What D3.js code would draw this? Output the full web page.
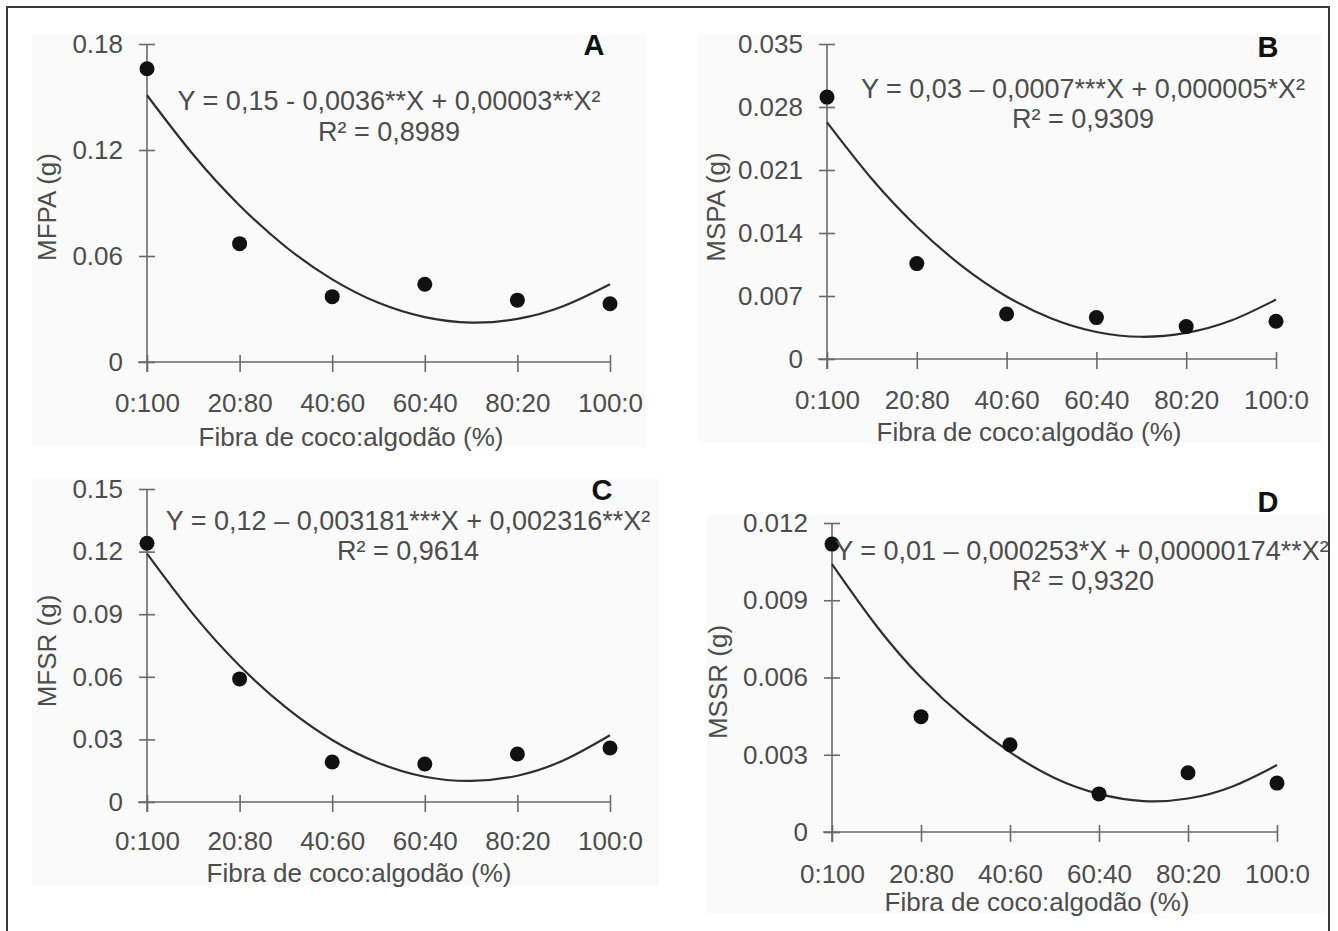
<!DOCTYPE html>
<html>
<head>
<meta charset="utf-8">
<script src="https://cdn.jsdelivr.net/npm/d3@7"></script>
<style>
  body { margin: 0; background: #fff; }
  text { font-family: "Liberation Sans", Arial, sans-serif; }
</style>
</head>
<body>
<script>
var w = 1338;
var h = 931;

// categories (coco fibre : cotton) and their numeric position
var xCats = ["0:100", "20:80", "40:60", "60:40", "80:20", "100:0"];
var xPct = [0, 20, 40, 60, 80, 100];
var curveX = [0, 10, 20, 30, 40, 50, 60, 70, 80, 90, 100];

// A - MFPA
var mfpaObs = [0.166, 0.067, 0.037, 0.044, 0.035, 0.033];
var mfpaFit = [0.151, 0.1173, 0.0886, 0.0651, 0.0468, 0.0335, 0.0254, 0.0223, 0.0244, 0.0317, 0.044];
var mfpaTicks = [0, 0.06, 0.12, 0.18];
var mfpaTickLabels = ["0", "0.06", "0.12", "0.18"];

// B - MSPA
var mspaObs = [0.0291, 0.0106, 0.0050, 0.0046, 0.0036, 0.0042];
var mspaFit = [0.0263, 0.0200, 0.0147, 0.01035, 0.00695, 0.0045, 0.0030, 0.00247, 0.0029, 0.00427, 0.0066];
var mspaTicks = [0, 0.007, 0.014, 0.021, 0.028, 0.035];
var mspaTickLabels = ["0", "0.007", "0.014", "0.021", "0.028", "0.035"];

// C - MFSR
var mfsrObs = [0.124, 0.059, 0.0192, 0.0182, 0.023, 0.0259];
var mfsrFit = [0.119, 0.0899, 0.0653, 0.0453, 0.0297, 0.0187, 0.0121, 0.0101, 0.0126, 0.0200, 0.032];
var mfsrTicks = [0, 0.03, 0.06, 0.09, 0.12, 0.15];
var mfsrTickLabels = ["0", "0.03", "0.06", "0.09", "0.12", "0.15"];

// D - MSSR
var mssrObs = [0.01118, 0.00448, 0.00339, 0.00148, 0.0023, 0.0019];
var mssrFit = [0.0104, 0.0080, 0.0060, 0.0044, 0.0031, 0.0021, 0.00148, 0.00120, 0.00130, 0.00177, 0.0026];
var mssrTicks = [0, 0.003, 0.006, 0.009, 0.012];
var mssrTickLabels = ["0", "0.003", "0.006", "0.009", "0.012"];

var xTitle = "Fibra de coco:algodão (%)";

// layout of the four panels (pixels only)
var panels = [
    { letter: "A", ylabel: "MFPA (g)", obs: mfpaObs, fit: mfpaFit, ticks: mfpaTicks, tickLabels: mfpaTickLabels,
      eq: "Y = 0,15 - 0,0036**X + 0,00003**X²", r2: "R² = 0,8989",
      bg: [32, 35, 646, 447], x0: 147, x1: 610, y0: 362, y1: 44,
      letterPos: [594, 55], eqPos: [389, 110], r2Pos: [389, 141], titlePos: [351, 446], ylabPos: [47, 207], tickDy: 50 },
    { letter: "B", ylabel: "MSPA (g)", obs: mspaObs, fit: mspaFit, ticks: mspaTicks, tickLabels: mspaTickLabels,
      eq: "Y = 0,03 – 0,0007***X + 0,000005*X²", r2: "R² = 0,9309",
      bg: [698, 35, 1322, 443], x0: 827, x1: 1276, y0: 359, y1: 44,
      letterPos: [1268, 57], eqPos: [1083, 98], r2Pos: [1083, 128], titlePos: [1029, 441], ylabPos: [716, 207], tickDy: 50 },
    { letter: "C", ylabel: "MFSR (g)", obs: mfsrObs, fit: mfsrFit, ticks: mfsrTicks, tickLabels: mfsrTickLabels,
      eq: "Y = 0,12 – 0,003181***X + 0,002316**X²", r2: "R² = 0,9614",
      bg: [32, 478, 659, 885], x0: 147, x1: 610, y0: 802, y1: 489,
      letterPos: [602, 500], eqPos: [408, 530], r2Pos: [408, 560], titlePos: [359, 882], ylabPos: [47, 651], tickDy: 48 },
    { letter: "D", ylabel: "MSSR (g)", obs: mssrObs, fit: mssrFit, ticks: mssrTicks, tickLabels: mssrTickLabels,
      eq: "Y = 0,01 – 0,000253*X + 0,00000174**X²", r2: "R² = 0,9320",
      bg: [707, 515, 1326, 913], x0: 832, x1: 1277, y0: 832, y1: 523,
      letterPos: [1268, 512], eqPos: [1082, 560], r2Pos: [1083, 590], titlePos: [1037, 911], ylabPos: [718, 682], tickDy: 51 }
];

var svg = d3.select("body")
    .append("svg")
    .attr("width", w)
    .attr("height", h);

svg.append("rect")
    .attr("width", w).attr("height", h)
    .attr("fill", "#fff");

// outer frame
svg.append("rect")
    .attr("x", 7).attr("y", 7)
    .attr("width", 1322).attr("height", 940)
    .attr("fill", "none")
    .attr("stroke", "#3a3a3a")
    .attr("stroke-width", 2);

var axisColor = "#6a6a6a";
var textColor = "#4d4d4d";

panels.forEach(function(p){
    var g = svg.append("g");

    g.append("rect")
        .attr("x", p.bg[0]).attr("y", p.bg[1])
        .attr("width", p.bg[2] - p.bg[0]).attr("height", p.bg[3] - p.bg[1])
        .attr("fill", "#fafafa");

    var x = d3.scaleLinear().domain([0, 100]).range([p.x0, p.x1]);
    var y = d3.scaleLinear().domain([0, d3.max(p.ticks)]).range([p.y0, p.y1]);

    // y axis: line + ticks crossing the axis
    var yAxis = d3.axisLeft(y)
        .tickValues(p.ticks)
        .tickSizeInner(16)
        .tickSizeOuter(0)
        .tickFormat(function(d, i){ return p.tickLabels[i]; });
    var yg = g.append("g")
        .attr("transform", "translate(" + (p.x0 + 8) + ",0)")
        .call(yAxis);
    yg.select(".domain").remove();
    yg.selectAll(".tick line").attr("stroke", axisColor).attr("stroke-width", 1.6);
    yg.selectAll(".tick text")
        .attr("x", -32)
        .attr("fill", textColor)
        .style("font-size", "26px")
        .attr("text-anchor", "end");
    g.append("line")
        .attr("x1", p.x0).attr("x2", p.x0)
        .attr("y1", y(0) + 10).attr("y2", y(d3.max(p.ticks)))
        .attr("stroke", axisColor).attr("stroke-width", 1.6);

    // x axis
    var xAxis = d3.axisBottom(x)
        .tickValues(xPct)
        .tickSizeInner(17)
        .tickSizeOuter(0)
        .tickFormat(function(d, i){ return xCats[i]; });
    var xg = g.append("g")
        .attr("transform", "translate(0," + (p.y0 - 7) + ")")
        .call(xAxis);
    xg.select(".domain").remove();
    xg.selectAll(".tick line").attr("stroke", axisColor).attr("stroke-width", 1.6);
    xg.selectAll(".tick text")
        .attr("y", p.tickDy + 7)
        .attr("dy", 0)
        .attr("fill", textColor)
        .style("font-size", "26px");
    g.append("line")
        .attr("x1", p.x0 - 9).attr("x2", p.x1)
        .attr("y1", p.y0).attr("y2", p.y0)
        .attr("stroke", axisColor).attr("stroke-width", 1.6);

    // fitted curve
    var line = d3.line()
        .x(function(d, i){ return x(curveX[i]); })
        .y(function(d){ return y(d); })
        .curve(d3.curveNatural);
    g.append("path")
        .datum(p.fit)
        .attr("d", line)
        .attr("fill", "none")
        .attr("stroke", "#2e2e2e")
        .attr("stroke-width", 2.2);

    // observed points
    g.selectAll("circle")
        .data(p.obs)
        .enter()
        .append("circle")
        .attr("cx", function(d, i){ return x(xPct[i]); })
        .attr("cy", function(d){ return y(d); })
        .attr("r", 7.5)
        .attr("fill", "#111");

    // texts
    g.append("text")
        .attr("x", p.eqPos[0]).attr("y", p.eqPos[1])
        .attr("text-anchor", "middle")
        .attr("fill", textColor)
        .style("font-size", "27px")
        .text(p.eq);
    g.append("text")
        .attr("x", p.r2Pos[0]).attr("y", p.r2Pos[1])
        .attr("text-anchor", "middle")
        .attr("fill", textColor)
        .style("font-size", "27px")
        .text(p.r2);
    g.append("text")
        .attr("x", p.letterPos[0]).attr("y", p.letterPos[1])
        .attr("text-anchor", "middle")
        .attr("fill", "#111")
        .style("font-size", "29px")
        .style("font-weight", "bold")
        .text(p.letter);
    g.append("text")
        .attr("x", p.titlePos[0]).attr("y", p.titlePos[1])
        .attr("text-anchor", "middle")
        .attr("fill", textColor)
        .style("font-size", "26px")
        .text(xTitle);
    g.append("text")
        .attr("transform", "translate(" + p.ylabPos[0] + "," + p.ylabPos[1] + ") rotate(-90)")
        .attr("text-anchor", "middle")
        .attr("dy", "0.36em")
        .attr("fill", textColor)
        .style("font-size", "26px")
        .text(p.ylabel);
});
</script>
</body>
</html>
